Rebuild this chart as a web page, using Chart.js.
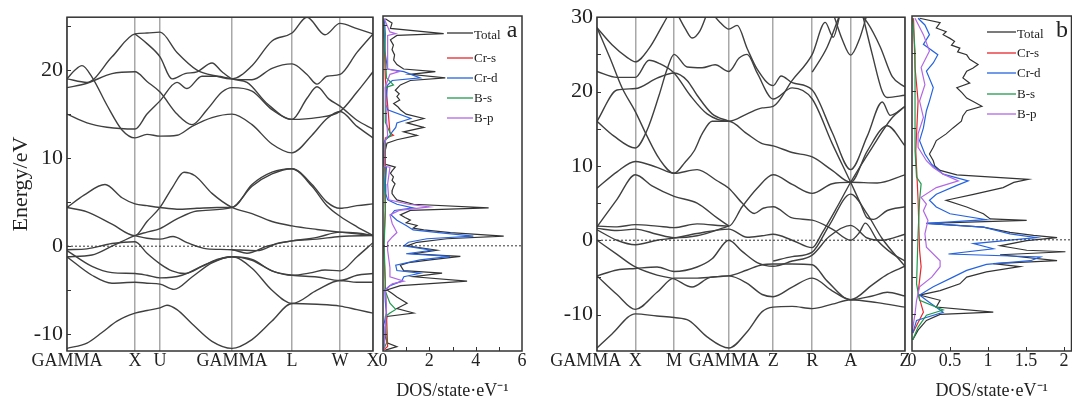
<!DOCTYPE html>
<html>
<head>
<meta charset="utf-8">
<script src="https://cdn.jsdelivr.net/npm/chart.js@4.4.1/dist/chart.umd.min.js"></script>
<style>
  body { margin: 0; background: #fff; width: 1072px; height: 402px; position: relative; overflow: hidden; }
  canvas { position: absolute; top: 0; }
</style>
</head>
<body>
<canvas id="bandA" width="384" height="402" style="left:0px"></canvas>
<canvas id="dosA" width="158" height="402" style="left:374px"></canvas>
<canvas id="bandB" width="375" height="402" style="left:540px"></canvas>
<canvas id="dosB" width="169" height="402" style="left:903px"></canvas>
<script>
// k-path of each band structure (distance along the path) and labels
const kPosA = [0, 68, 93, 165, 225, 273, 306];
const kNamesA = ['GAMMA', 'X', 'U', 'GAMMA', 'L', 'W', 'X'];
const kPosB = [0, 38.3, 77, 131.7, 176, 215, 253.4, 307.7];
const kNamesB = ['GAMMA     ', 'X', 'M', 'GAMMA  ', 'Z', 'R', 'A', 'Z'];

const energyTicksA = [-10, 0, 10, 20];
const energyTicksB = [-10, 0, 10, 20, 30];
const dosTicksA = [0, 2, 4, 6];
const dosTicksB = [0, 0.5, 1, 1.5, 2];
const orbitals = ['Total', 'Cr-s', 'Cr-d', 'B-s', 'B-p'];

// bands, panel a: [k, E]
const bandsA = [
  [[0,19.0],[8,20.0],[15,20.5],[25,19.2],[40,16.0],[55,13.2],[68,12.3],[80,12.7],[93,12.5],[110,12.6],[125,13.6],[145,14.6],[165,15.0],[185,13.8],[205,11.6],[225,10.6],[245,12.6],[260,14.5],[273,15.3],[290,13.6],[306,12.3]],
  [[0,15.0],[20,14.0],[40,13.5],[68,13.3],[80,15.0],[93,16.5],[110,18.6],[120,17.9],[135,19.3],[150,19.3],[165,19.0],[185,18.9],[205,20.2],[225,20.7],[240,19.5],[250,18.4],[260,19.3],[273,19.5],[290,22.0],[306,24.1]],
  [[0,18.0],[20,18.5],[45,19.6],[68,19.8],[80,18.7],[93,17.5],[110,15.0],[125,13.8],[140,15.5],[155,17.5],[165,18.0],[185,17.6],[205,15.5],[225,14.4],[240,16.8],[250,18.1],[262,16.7],[273,15.9],[290,14.3],[306,13.3]],
  [[0,19.0],[20,18.6],[45,21.5],[68,24.1],[80,24.2],[93,24.3],[110,22.0],[130,20.0],[150,19.3],[165,19.0],[185,20.5],[205,23.3],[225,24.2],[240,26.0],[258,24.0],[273,25.3],[290,24.7],[306,24.1]],
  [[68,24.1],[80,23.0],[93,21.5],[105,19.0],[118,19.6],[130,19.8],[145,20.8],[155,19.8],[165,19.0],[180,18.6],[200,16.2],[225,14.4],[250,14.6],[273,15.3],[290,17.5],[306,19.8]],
  [[0,-11.6],[20,-11.0],[35,-9.8],[50,-8.5],[68,-7.6],[80,-7.3],[93,-7.0],[100,-6.7],[110,-7.2],[125,-8.8],[145,-10.8],[165,-11.6],[185,-10.6],[205,-8.5],[225,-6.5],[250,-6.6],[273,-6.8],[290,-7.2],[306,-7.6]],
  [[0,4.4],[17,5.8],[38,7.0],[55,5.5],[68,4.8],[80,4.6],[93,4.4],[110,4.2],[130,4.3],[150,4.4],[165,4.4],[185,7.0],[205,8.4],[225,8.8],[245,7.0],[260,5.0],[273,4.3],[290,4.6],[306,4.8]],
  [[0,4.4],[20,3.9],[45,2.5],[68,1.2],[80,2.8],[93,4.4],[105,6.6],[117,8.4],[128,8.0],[145,6.0],[165,4.4],[185,3.7],[205,2.8],[225,2.3],[250,1.9],[273,1.6],[290,1.4],[306,1.2]],
  [[0,-1.2],[25,-1.0],[45,0.0],[68,1.2],[80,1.6],[93,2.0],[110,3.1],[130,4.0],[165,4.4],[185,6.8],[205,8.2],[225,8.8],[245,6.8],[260,4.6],[273,3.4],[290,2.2],[306,1.2]],
  [[0,-0.4],[20,-0.3],[45,0.3],[68,0.5],[80,-0.8],[93,-2.0],[105,-2.8],[118,-3.1],[135,-2.3],[150,-1.5],[165,-1.2],[185,-1.6],[205,-2.8],[225,-3.3],[245,-3.0],[258,-2.7],[273,-2.8],[290,-1.2],[306,0.4]],
  [[68,1.2],[80,0.9],[93,0.8],[106,1.1],[120,0.4],[140,-0.3],[165,-0.4],[180,-0.8],[200,0.0],[225,0.6],[250,0.8],[273,1.1],[306,1.2]],
  [[0,-0.5],[25,-2.3],[45,-3.0],[68,-3.1],[80,-3.3],[93,-3.6],[115,-3.3],[140,-2.0],[165,-1.2],[185,-2.5],[205,-5.0],[225,-6.5],[250,-5.0],[273,-3.9],[290,-4.1],[306,-4.1]],
  [[0,-1.2],[25,-3.3],[45,-4.2],[68,-4.1],[80,-4.2],[93,-4.3],[107,-4.9],[125,-3.5],[145,-1.9],[165,-1.2],[185,-1.5],[205,-2.8],[225,-3.3],[250,-3.5],[273,-3.9],[290,-3.3],[306,-3.1]],
  [[165,-0.4],[190,-0.5],[210,0.3],[225,0.6],[250,1.0],[273,1.6],[290,1.5],[306,1.2]]
];

// bands, panel b: [k, E]
const bandsB = [
  [[0,28.6],[15,26.3],[30,24.6],[38.3,24.0],[52,25.8],[65,28.8],[72,30.5]],
  [[0,28.6],[13,24.5],[25,20.5],[38.3,17.3],[50,14.0],[62,11.0],[77,9.0],[88,10.5],[97,12.0],[105,14.3],[115,16.0],[131.7,16.0],[150,14.3],[165,13.0],[176,12.7],[195,11.8],[215,11.2],[235,9.4],[253.4,7.8],[270,12.0],[290,15.4],[307.7,12.7]],
  [[0,22.7],[20,21.9],[38.3,21.9],[52,24.2],[62,23.8],[77,22.5],[93,19.5],[110,17.0],[131.7,16.0],[150,17.0],[165,17.8],[176,18.0],[195,21.5],[215,25.0],[228,29.3],[236,27.3],[243,30.5]],
  [[0,16.0],[20,20.2],[38.3,20.4],[60,21.8],[77,22.5],[90,21.5],[100,19.5],[115,17.0],[131.7,16.0]],
  [[0,16.0],[17,14.0],[38.3,12.4],[50,14.8],[62,19.5],[70,23.0],[77,25.0],[90,23.3],[105,23.2],[118,23.6],[131.7,22.7],[142,24.5],[150,25.0],[160,22.5],[176,19.0],[195,20.5],[215,19.0],[235,13.0],[253.4,7.8],[263,5.0],[270,3.0],[276,2.8],[290,4.0],[307.7,4.5]],
  [[80,30.5],[88,28.5],[95,27.2],[103,28.2],[110,30.5]],
  [[115,30.5],[123,29.3],[131.7,28.4],[140,28.9],[150,25.8],[160,23.0],[176,20.8],[184,22.1],[195,21.2],[215,20.2],[235,14.5],[253.4,9.5],[270,14.0],[285,18.6],[293,16.8],[307.7,18.0]],
  [[215,22.6],[230,26.0],[243,30.5]],
  [[236,30.5],[245,27.0],[253.4,24.9],[262,27.0],[270,30.5]],
  [[262,30.5],[270,29.3],[283,26.0],[295,22.0],[307.7,20.6]],
  [[265,30.5],[275,25.0],[285,20.0],[290,19.2],[307.7,19.5]],
  [[0,-14.5],[15,-12.6],[38.3,-9.9],[60,-10.2],[77,-10.4],[92,-10.8],[110,-13.0],[131.7,-14.5],[150,-12.3],[165,-9.6],[176,-9.0],[195,-8.9],[215,-9.2],[235,-8.6],[253.4,-8.0],[280,-8.4],[307.7,-9.0]],
  [[0,-4.8],[20,-7.3],[38.3,-9.3],[60,-7.0],[77,-5.1],[100,-5.1],[131.7,-4.8],[150,-5.8],[165,-7.3],[176,-7.6],[195,-6.3],[215,-5.1],[235,-6.8],[253.4,-8.0],[275,-7.5],[290,-7.0],[307.7,-7.5]],
  [[0,-4.8],[20,-4.0],[38.3,-3.8],[60,-3.6],[77,-4.2],[100,-3.6],[115,-2.5],[131.7,0.0],[145,-1.5],[160,-3.0],[176,-3.5],[195,-2.8],[215,-2.0],[232,0.5],[253.4,2.0],[270,0.3],[285,0.0],[307.7,0.8]],
  [[0,0.0],[20,-1.9],[38.3,-3.6],[60,-4.7],[77,-5.2],[95,-6.3],[113,-5.0],[131.7,-4.8],[150,-4.0],[165,-3.3],[176,-3.2],[195,-3.2],[215,-3.3],[230,-5.5],[253.4,-8.0],[275,-6.0],[290,-4.6],[307.7,-3.5]],
  [[0,1.4],[20,0.0],[38.3,-0.6],[60,0.0],[77,0.3],[100,0.9],[131.7,1.5],[150,0.4],[165,0.6],[176,0.8],[195,0.0],[215,-1.0],[225,1.0],[240,4.5],[253.4,7.8],[275,12.5],[295,16.5],[307.7,18.0]],
  [[0,1.6],[20,1.3],[38.3,1.5],[60,0.8],[77,0.35],[100,0.6],[131.7,1.9]],
  [[0,1.9],[20,1.8],[38.3,2.1],[60,1.9],[77,1.7],[100,2.2],[131.7,1.9],[145,4.5],[160,7.0],[176,8.8],[195,7.5],[215,6.3],[235,7.6],[253.4,7.8],[280,7.7],[307.7,8.8]],
  [[0,1.8],[20,5.5],[38.3,8.8],[55,7.3],[77,5.9],[100,5.0],[120,3.0],[131.7,1.9]],
  [[0,7.0],[20,9.2],[38.3,10.6],[60,9.8],[77,9.0],[100,9.5],[120,8.0],[131.7,7.0],[145,5.0],[157,3.6],[166,4.3],[176,4.5],[195,3.0],[215,2.7],[235,1.5],[253.4,0.0],[262,1.0],[268,2.3],[280,0.0],[295,-1.8],[307.7,-2.8]],
  [[176,-2.8],[195,-2.2],[215,-1.6],[232,2.0],[253.4,6.2],[270,3.5],[285,0.2],[307.7,-3.5]]
];

// DOS, panel a: [E, states/eV]
const dosTotalA = [[25.7,0.10],[25.2,0.39],[24.6,0.32],[24.0,2.62],[23.8,0.60],[23.3,0.32],[22.7,0.45],[22.2,0.39],[21.6,0.50],[21.0,0.46],[20.5,0.60],[20.0,0.89],[19.7,2.26],[19.4,1.18],[19.0,2.69],[18.7,1.18],[18.2,0.75],[17.6,0.53],[17.2,0.70],[16.9,0.60],[16.5,0.72],[16.1,0.46],[15.7,0.65],[15.4,0.75],[14.9,1.00],[14.4,1.76],[13.9,1.04],[13.4,1.76],[12.9,0.89],[12.5,1.47],[12.0,0.60],[11.6,0.17],[10.8,0.10],[10.1,0.0],[9.3,0.0],[8.9,0.53],[8.5,0.40],[8.2,0.32],[7.8,0.45],[7.4,0.39],[7.0,0.52],[6.7,0.46],[6.3,0.40],[5.9,0.39],[5.5,0.50],[5.2,0.60],[4.7,1.32],[4.3,4.56],[4.0,1.18],[3.5,0.75],[3.2,0.95],[2.9,1.18],[2.6,1.00],[2.3,1.47],[2.0,1.30],[1.8,1.76],[1.5,2.91],[1.1,5.21],[0.8,2.76],[0.4,1.47],[0.0,1.04],[-0.5,2.33],[-0.9,1.32],[-1.2,3.34],[-1.6,2.04],[-1.9,1.10],[-2.2,0.75],[-2.8,0.89],[-3.1,2.55],[-3.5,1.32],[-4.0,3.63],[-4.5,0.75],[-5.0,0.17],[-5.4,0.40],[-5.8,0.60],[-6.5,1.04],[-7.1,0.60],[-7.6,1.32],[-8.0,0.17],[-9.2,0.10],[-10.3,0.10],[-11.0,0.20],[-11.4,0.60],[-11.8,0.10]];
const dosCrsA = [[25.7,0.02],[19.0,0.10],[12.8,0.30],[12.5,0.45],[12.2,0.10],[4.0,0.10],[0.0,0.03],[-7.6,0.15],[-11.4,0.20],[-11.8,0.02]];
const dosCrdA = [[25.7,0.06],[24.0,0.10],[22.0,0.08],[20.0,0.20],[19.7,0.90],[19.0,1.60],[18.7,0.40],[18.2,0.20],[17.0,0.15],[16.0,0.12],[15.4,0.20],[14.4,1.20],[13.9,0.60],[13.4,0.55],[12.9,0.40],[12.5,0.30],[12.0,0.10],[11.5,0.02],[10.0,0.0],[9.0,0.05],[8.9,0.15],[7.0,0.10],[5.9,0.12],[5.2,0.20],[4.7,0.60],[4.3,1.30],[4.0,0.50],[3.5,0.35],[2.9,0.60],[2.3,1.00],[1.8,1.30],[1.5,2.40],[1.1,3.90],[0.8,1.90],[0.4,1.10],[0.0,0.90],[-0.5,2.10],[-0.9,1.00],[-1.2,2.90],[-1.6,1.60],[-2.2,0.55],[-2.8,0.60],[-3.1,1.60],[-3.5,0.90],[-4.0,0.80],[-4.5,0.30],[-5.0,0.08],[-6.3,0.10],[-7.6,0.15],[-9.0,0.03],[-11.4,0.05],[-11.8,0.0]];
const dosBsA = [[25.7,0.02],[19.0,0.15],[18.2,0.45],[17.9,0.10],[14.0,0.10],[12.5,0.35],[12.0,0.10],[8.0,0.05],[4.0,0.10],[0.0,0.05],[-4.0,0.10],[-5.0,0.08],[-6.5,0.30],[-7.2,0.55],[-7.6,0.30],[-8.0,0.10],[-11.0,0.15],[-11.6,0.05]];
const dosBpA = [[25.7,0.05],[24.2,0.30],[24.0,0.55],[23.8,0.20],[20.0,0.20],[19.7,0.70],[19.4,0.30],[18.0,0.10],[14.4,0.15],[12.5,0.20],[11.5,0.05],[9.0,0.05],[8.9,0.30],[7.0,0.20],[5.2,0.25],[4.7,1.10],[4.4,2.00],[4.0,0.70],[3.5,0.30],[2.5,0.40],[1.5,0.60],[1.0,0.40],[0.4,0.20],[-0.5,0.20],[-1.5,0.25],[-2.5,0.30],[-3.5,0.30],[-4.0,0.90],[-4.3,0.40],[-5.0,0.10],[-7.0,0.15],[-11.4,0.05],[-11.8,0.02]];

// DOS, panel b: [E, states/eV]
const dosTotalB = [[29.7,0.10],[29.1,0.37],[28.4,0.32],[27.9,0.45],[27.5,0.41],[27.0,0.50],[26.6,0.56],[26.1,0.52],[25.7,0.63],[25.2,0.60],[24.8,0.72],[24.2,0.76],[23.5,0.87],[23.0,0.80],[22.6,0.72],[21.7,0.67],[21.0,0.76],[20.4,0.59],[19.7,0.66],[19.0,0.72],[18.4,0.83],[17.9,0.92],[17.3,0.72],[16.6,0.67],[15.9,0.65],[15.0,0.54],[14.2,0.45],[13.3,0.32],[12.4,0.28],[11.5,0.23],[10.6,0.28],[9.9,0.30],[9.3,0.37],[8.7,0.59],[8.1,1.53],[7.7,1.34],[7.0,1.20],[6.1,0.81],[5.3,0.45],[4.4,0.72],[3.5,0.94],[2.8,1.03],[2.6,1.51],[2.2,0.19],[1.7,0.94],[1.0,1.29],[0.6,1.60],[0.3,1.91],[-0.1,1.51],[-0.8,1.16],[-1.4,1.51],[-1.6,2.02],[-2.0,1.16],[-2.8,1.91],[-3.2,1.07],[-3.6,1.42],[-4.3,0.98],[-5.0,0.72],[-5.9,0.63],[-6.8,0.37],[-7.4,0.10],[-8.1,0.37],[-9.0,0.32],[-9.7,1.07],[-10.0,0.37],[-10.8,0.19],[-12.1,0.08],[-13.4,0.01]];
const dosCrsB = [[29.7,0.02],[23.1,0.04],[18.6,0.08],[11.9,0.05],[5.3,0.08],[-1.4,0.10],[-3.6,0.12],[-7.2,0.08],[-9.7,0.15],[-12.5,0.01]];
const dosCrdB = [[29.7,0.08],[28.8,0.17],[27.5,0.23],[26.2,0.15],[24.8,0.34],[23.7,0.28],[22.6,0.19],[20.4,0.28],[18.6,0.23],[17.3,0.19],[15.0,0.15],[13.3,0.10],[11.5,0.17],[10.1,0.26],[8.8,0.41],[7.9,0.74],[7.3,0.59],[6.1,0.32],[5.3,0.23],[4.4,0.32],[3.5,0.50],[2.7,0.98],[2.2,0.19],[1.7,0.94],[0.8,1.29],[0.3,1.64],[-0.5,0.81],[-1.2,1.07],[-1.9,0.48],[-2.3,1.69],[-2.8,1.56],[-3.3,0.98],[-4.1,0.72],[-5.0,0.54],[-6.3,0.28],[-7.4,0.10],[-8.1,0.19],[-9.7,0.41],[-10.8,0.06],[-12.5,0.01]];
const dosBsB = [[29.7,0.01],[25.3,0.04],[18.6,0.04],[11.9,0.04],[8.4,0.06],[7.5,0.12],[5.3,0.10],[0.8,0.08],[-5.9,0.06],[-8.1,0.10],[-9.4,0.41],[-10.1,0.19],[-11.7,0.08],[-13.4,0.01]];
const dosBpB = [[29.7,0.04],[27.5,0.15],[25.3,0.23],[23.1,0.12],[20.8,0.17],[18.6,0.10],[16.4,0.15],[14.2,0.08],[12.4,0.08],[10.6,0.19],[9.7,0.28],[8.8,0.41],[7.9,0.61],[7.0,0.32],[5.7,0.12],[4.8,0.19],[3.9,0.15],[2.6,0.21],[0.8,0.17],[-1.0,0.19],[-2.8,0.37],[-3.6,0.37],[-5.0,0.26],[-6.3,0.10],[-8.1,0.06],[-9.9,0.04],[-12.5,0.0]];

const serif = 'Liberation Serif';
const ink = '#222222';
const bandColor = '#404040';
const orbitalColors = ['#333333', '#e8262c', '#2563e0', '#1f9a4e', '#b267e6'];

Chart.defaults.font.family = serif;
Chart.defaults.color = ink;

// frame, inward tick marks, legend and panel letter
const decor = {
  id: 'decor',
  afterDraw(chart, args, o) {
    const { ctx, chartArea: a, scales } = chart;
    ctx.save();
    ctx.strokeStyle = '#333';
    ctx.lineWidth = 1.5;
    ctx.strokeRect(a.left, a.top, a.right - a.left, a.bottom - a.top);
    ctx.lineWidth = 1;
    (o.yMarks || []).forEach(v => {
      const y = Math.round(scales.y.getPixelForValue(v)) + 0.5;
      ctx.beginPath(); ctx.moveTo(a.left, y); ctx.lineTo(a.left + 4, y); ctx.stroke();
    });
    (o.xMarks || []).forEach(v => {
      const x = Math.round(scales.x.getPixelForValue(v)) + 0.5;
      ctx.beginPath(); ctx.moveTo(x, a.bottom); ctx.lineTo(x, a.bottom - 4); ctx.stroke();
    });
    if (o.legend) {
      const L = o.legend;
      ctx.font = '13px "' + serif + '"';
      ctx.textBaseline = 'middle';
      orbitals.forEach((name, i) => {
        const y = L.y[i];
        ctx.strokeStyle = orbitalColors[i];
        ctx.lineWidth = 1.3;
        ctx.beginPath(); ctx.moveTo(L.x0, y); ctx.lineTo(L.x1, y); ctx.stroke();
        ctx.fillStyle = ink;
        ctx.fillText(name, L.x1 + 1, y + (i === 0 ? 3 : 1));
      });
    }
    if (o.letter) {
      ctx.font = '24px "' + serif + '"';
      ctx.fillStyle = ink;
      ctx.textAlign = 'center';
      ctx.textBaseline = 'middle';
      ctx.fillText(o.letter.text, o.letter.x, o.letter.y);
    }
    ctx.restore();
  }
};

const toXY = arr => arr.map(p => ({ x: p[0], y: p[1] }));
const toDos = arr => arr.map(p => ({ x: p[1], y: p[0] }));

const fermiLine = (x0, x1) => ({
  data: [{ x: x0, y: 0 }, { x: x1, y: 0 }],
  borderColor: '#333', borderWidth: 1, borderDash: [2, 2], pointRadius: 0, showLine: true
});

const bandChart = (id, kPos, kNames, yMin, yMax, yTicks, bands, yTitle, yWidth, padRight) => {
  const kMax = kPos[kPos.length - 1];
  const datasets = [fermiLine(0, kMax)];
  bands.forEach(b => datasets.push({
    data: toXY(b), borderColor: bandColor, borderWidth: 1.4, pointRadius: 0,
    showLine: true, cubicInterpolationMode: 'monotone'
  }));
  const marks = [];
  for (let v = -15; v <= 30; v += 5) if (v > yMin && v < yMax) marks.push(v);

  new Chart(document.getElementById(id), {
    type: 'scatter',
    data: { datasets },
    options: {
      responsive: false,
      animation: false,
      devicePixelRatio: 1,
      layout: { padding: { top: 16, right: padRight, left: 0, bottom: 0 } },
      plugins: {
        legend: { display: false },
        tooltip: { enabled: false },
        decor: { yMarks: marks }
      },
      scales: {
        x: {
          type: 'linear', min: 0, max: kMax,
          afterBuildTicks: s => { s.ticks = kPos.map(v => ({ value: v })); },
          afterFit: s => { s.height = 51; },
          ticks: { autoSkip: false, maxRotation: 0, padding: -1, color: ink, font: { size: 18 },
                   callback: (v, i) => kNames[i] },
          grid: { color: '#a8a8a8', lineWidth: 1.5, drawTicks: false },
          border: { display: false }
        },
        y: {
          type: 'linear', min: yMin, max: yMax,
          afterBuildTicks: s => { s.ticks = yTicks.map(v => ({ value: v })); },
          afterFit: s => { s.width = yWidth; },
          ticks: { padding: 4, color: ink, font: { size: 22 } },
          grid: { display: false, drawTicks: false },
          border: { display: false },
          title: yTitle
            ? { display: true, text: yTitle, color: ink, font: { size: 22 }, padding: { top: 8, bottom: 0 } }
            : { display: false }
        }
      }
    },
    plugins: [decor]
  });
};

const dosChart = (id, xMax, xTicks, xMarks, yMin, yMax, series, legend, letter, padLeft, padRight) => {
  const datasets = [fermiLine(0, xMax)];
  // drawn last-to-first: Total ends up underneath
  for (let i = series.length - 1; i >= 0; i--) {
    datasets.push({
      data: toDos(series[i]), borderColor: orbitalColors[i], borderWidth: 1.2,
      pointRadius: 0, showLine: true, tension: 0
    });
  }
  const marks = [];
  for (let v = -15; v <= 30; v += 5) if (v > yMin && v < yMax) marks.push(v);

  new Chart(document.getElementById(id), {
    type: 'scatter',
    data: { datasets },
    options: {
      responsive: false,
      animation: false,
      devicePixelRatio: 1,
      layout: { padding: { top: 16, right: padRight, left: padLeft, bottom: 0 } },
      plugins: {
        legend: { display: false },
        tooltip: { enabled: false },
        decor: { xMarks, yMarks: marks, legend, letter }
      },
      scales: {
        x: {
          type: 'linear', min: 0, max: xMax,
          afterBuildTicks: s => { s.ticks = xTicks.map(v => ({ value: v })); },
          afterFit: s => { s.height = 51; },
          ticks: { autoSkip: false, maxRotation: 0, padding: -1, color: ink, font: { size: 18 },
                   callback: v => String(v) },
          grid: { display: false, drawTicks: false },
          border: { display: false },
          title: { display: true, text: 'DOS/state·eV⁻¹', color: ink, font: { size: 18 }, padding: { top: 0, bottom: 0 } }
        },
        y: { type: 'linear', display: false, min: yMin, max: yMax }
      }
    },
    plugins: [decor]
  });
};

bandChart('bandA', kPosA, kNamesA, -11.9, 26, energyTicksA, bandsA, 'Energy/eV', 67, 11);
dosChart('dosA', 6, dosTicksA, [1, 2, 3, 4, 5], -11.9, 26,
  [dosTotalA, dosCrsA, dosCrdA, dosBsA, dosBpA],
  { x0: 73, x1: 99, y: [33, 58, 78, 98, 118] }, { text: 'a', x: 138, y: 31 }, 9, 10);
bandChart('bandB', kPosB, kNamesB, -14.9, 30, energyTicksB, bandsB, null, 57, 10);
dosChart('dosB', 2.1, dosTicksB, [0.5, 1, 1.5, 2], -14.9, 30,
  [dosTotalB, dosCrsB, dosCrdB, dosBsB, dosBpB],
  { x0: 84, x1: 113, y: [32, 53, 73, 94, 114] }, { text: 'b', x: 159, y: 31 }, 9, 0.5);
</script>
</body>
</html>
